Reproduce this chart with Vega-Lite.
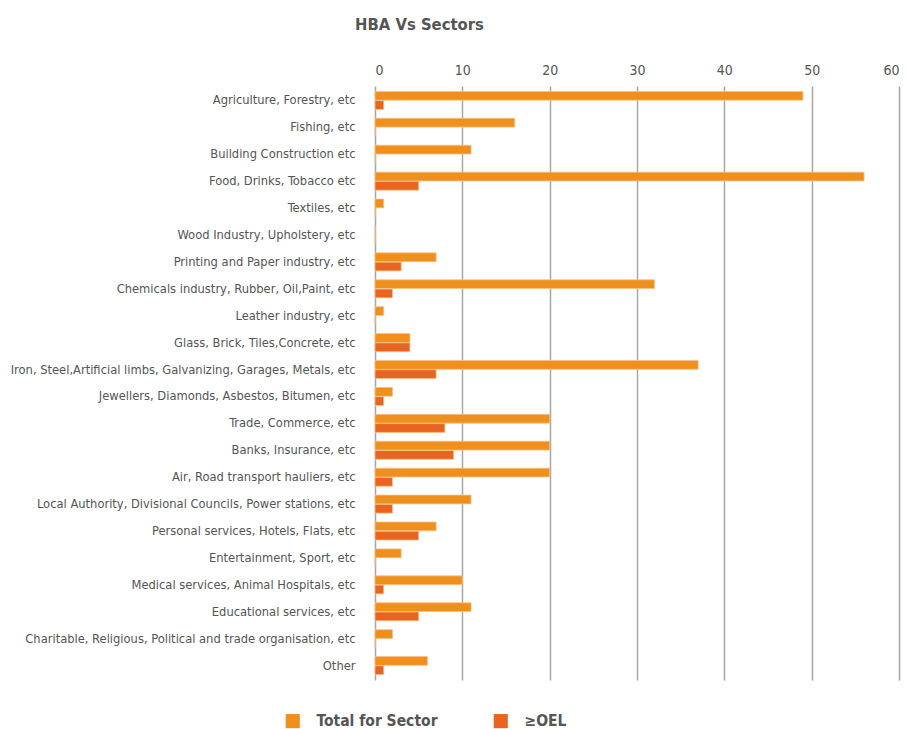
{
  "$schema": "https://vega.github.io/schema/vega-lite/v6.json",
  "autosize": {"type": "none"},
  "padding": {"left": 375, "top": 86, "right": 8, "bottom": 49},
  "width": 524,
  "height": 594,
  "background": "white",
  "title": {
    "text": "HBA Vs Sectors",
    "anchor": "start",
    "frame": "group",
    "dx": -20,
    "fontSize": 16.5,
    "fontWeight": "bold",
    "font": "DejaVu Sans Condensed, sans-serif",
    "color": "#555555",
    "offset": 30
  },
  "data": {
    "values": [
      {"sector": "Agriculture, Forestry, etc", "series": "Total for Sector", "value": 49},
      {"sector": "Agriculture, Forestry, etc", "series": "≥OEL", "value": 1},
      {"sector": "Fishing, etc", "series": "Total for Sector", "value": 16},
      {"sector": "Fishing, etc", "series": "≥OEL", "value": 0},
      {"sector": "Building Construction  etc", "series": "Total for Sector", "value": 11},
      {"sector": "Building Construction  etc", "series": "≥OEL", "value": 0},
      {"sector": "Food, Drinks, Tobacco etc", "series": "Total for Sector", "value": 56},
      {"sector": "Food, Drinks, Tobacco etc", "series": "≥OEL", "value": 5},
      {"sector": "Textiles, etc", "series": "Total for Sector", "value": 1},
      {"sector": "Textiles, etc", "series": "≥OEL", "value": 0},
      {"sector": "Wood Industry, Upholstery, etc", "series": "Total for Sector", "value": 0},
      {"sector": "Wood Industry, Upholstery, etc", "series": "≥OEL", "value": 0},
      {"sector": "Printing and Paper industry, etc", "series": "Total for Sector", "value": 7},
      {"sector": "Printing and Paper industry, etc", "series": "≥OEL", "value": 3},
      {"sector": "Chemicals industry, Rubber, Oil,Paint, etc", "series": "Total for Sector", "value": 32},
      {"sector": "Chemicals industry, Rubber, Oil,Paint, etc", "series": "≥OEL", "value": 2},
      {"sector": "Leather industry, etc", "series": "Total for Sector", "value": 1},
      {"sector": "Leather industry, etc", "series": "≥OEL", "value": 0},
      {"sector": "Glass, Brick, Tiles,Concrete, etc", "series": "Total for Sector", "value": 4},
      {"sector": "Glass, Brick, Tiles,Concrete, etc", "series": "≥OEL", "value": 4},
      {"sector": "Iron, Steel,Artificial limbs, Galvanizing, Garages, Metals, etc", "series": "Total for Sector", "value": 37},
      {"sector": "Iron, Steel,Artificial limbs, Galvanizing, Garages, Metals, etc", "series": "≥OEL", "value": 7},
      {"sector": "Jewellers, Diamonds, Asbestos, Bitumen, etc", "series": "Total for Sector", "value": 2},
      {"sector": "Jewellers, Diamonds, Asbestos, Bitumen, etc", "series": "≥OEL", "value": 1},
      {"sector": "Trade, Commerce, etc", "series": "Total for Sector", "value": 20},
      {"sector": "Trade, Commerce, etc", "series": "≥OEL", "value": 8},
      {"sector": "Banks, Insurance, etc", "series": "Total for Sector", "value": 20},
      {"sector": "Banks, Insurance, etc", "series": "≥OEL", "value": 9},
      {"sector": "Air, Road transport hauliers, etc", "series": "Total for Sector", "value": 20},
      {"sector": "Air, Road transport hauliers, etc", "series": "≥OEL", "value": 2},
      {"sector": "Local Authority, Divisional Councils, Power stations, etc", "series": "Total for Sector", "value": 11},
      {"sector": "Local Authority, Divisional Councils, Power stations, etc", "series": "≥OEL", "value": 2},
      {"sector": "Personal services, Hotels, Flats, etc", "series": "Total for Sector", "value": 7},
      {"sector": "Personal services, Hotels, Flats, etc", "series": "≥OEL", "value": 5},
      {"sector": "Entertainment, Sport, etc", "series": "Total for Sector", "value": 3},
      {"sector": "Entertainment, Sport, etc", "series": "≥OEL", "value": 0},
      {"sector": "Medical services, Animal Hospitals, etc", "series": "Total for Sector", "value": 10},
      {"sector": "Medical services, Animal Hospitals, etc", "series": "≥OEL", "value": 1},
      {"sector": "Educational services, etc", "series": "Total for Sector", "value": 11},
      {"sector": "Educational services, etc", "series": "≥OEL", "value": 5},
      {"sector": "Charitable, Religious, Political and trade organisation, etc", "series": "Total for Sector", "value": 2},
      {"sector": "Charitable, Religious, Political and trade organisation, etc", "series": "≥OEL", "value": 0},
      {"sector": "Other", "series": "Total for Sector", "value": 6},
      {"sector": "Other", "series": "≥OEL", "value": 1}
    ]
  },
  "mark": {"type": "bar", "stroke": "#f6c285", "strokeWidth": 0.8},
  "encoding": {
    "y": {
      "field": "sector",
      "type": "nominal",
      "sort": null,
      "scale": {"paddingInner": 0.33, "paddingOuter": 0.2},
      "axis": {
        "title": null,
        "domain": false,
        "ticks": false,
        "labelPadding": 20,
        "labelFontSize": 12.8,
        "labelColor": "#555555",
        "labelFont": "DejaVu Sans Condensed, sans-serif",
        "labelLimit": 400
      }
    },
    "yOffset": {
      "field": "series",
      "type": "nominal",
      "sort": ["Total for Sector", "≥OEL"],
      "scale": {"paddingInner": 0.05}
    },
    "x": {
      "field": "value",
      "type": "quantitative",
      "scale": {"domain": [0, 60], "nice": false},
      "axis": {
        "orient": "top",
        "title": null,
        "values": [0, 10, 20, 30, 40, 50, 60],
        "domain": false,
        "ticks": false,
        "labelPadding": 9,
        "labelFontSize": 14,
        "labelColor": "#555555",
        "labelFont": "DejaVu Sans Condensed, sans-serif",
        "grid": true,
        "gridColor": "#a6a6a6",
        "gridWidth": 1.5
      }
    },
    "color": {
      "field": "series",
      "type": "nominal",
      "sort": ["Total for Sector", "≥OEL"],
      "scale": {"domain": ["Total for Sector", "≥OEL"], "range": ["#ee8f1e", "#e8641f"]},
      "legend": {
        "title": null,
        "orient": "none",
        "direction": "horizontal",
        "legendX": -90,
        "legendY": 627,
        "symbolType": "square",
        "symbolSize": 200,
        "symbolStrokeWidth": 0,
        "labelFontSize": 15.5,
        "labelFontWeight": "bold",
        "labelColor": "#555555",
        "labelFont": "DejaVu Sans Condensed, sans-serif",
        "labelOffset": 16,
        "columnPadding": 55
      }
    }
  },
  "config": {"view": {"stroke": null}}
}
